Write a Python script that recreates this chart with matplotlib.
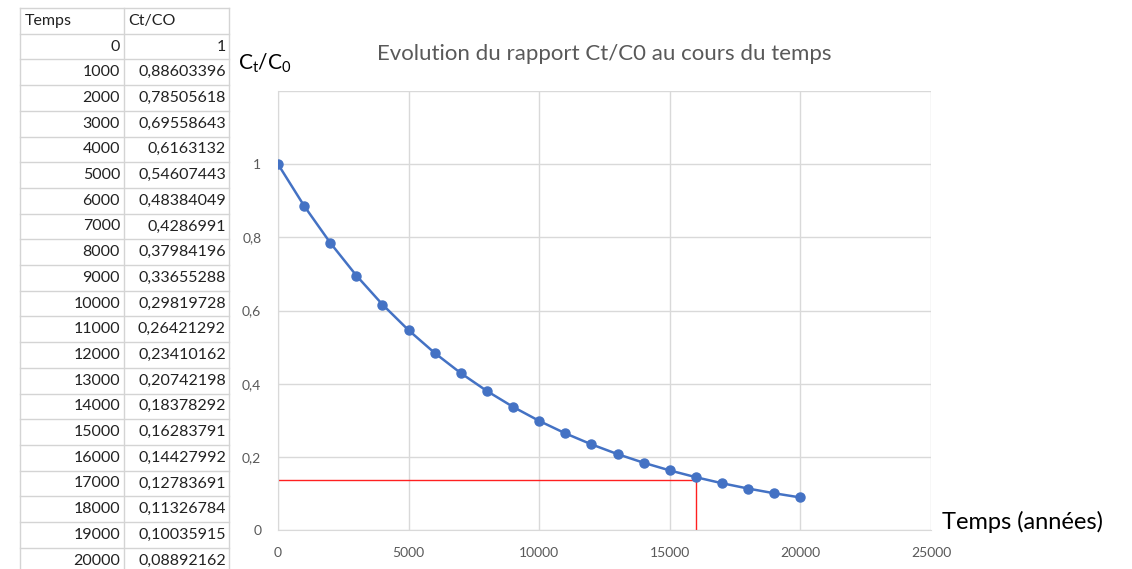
import matplotlib
matplotlib.use("Agg")
import matplotlib.pyplot as plt
from matplotlib.lines import Line2D

plt.rcParams['font.family'] = ['Lato', 'DejaVu Sans']
plt.rcParams['mathtext.fontset'] = 'custom'
plt.rcParams['mathtext.rm'] = 'Lato'
plt.rcParams['mathtext.it'] = 'Lato'

# ---- data ----
temps = [0, 1000, 2000, 3000, 4000, 5000, 6000, 7000, 8000, 9000, 10000,
         11000, 12000, 13000, 14000, 15000, 16000, 17000, 18000, 19000, 20000]
ratio = [1, 0.88603396, 0.78505618, 0.69558643, 0.6163132, 0.54607443,
         0.48384049, 0.4286991, 0.37984196, 0.33655288, 0.29819728,
         0.26421292, 0.23410162, 0.20742198, 0.18378292, 0.16283791,
         0.14427992, 0.12783691, 0.11326784, 0.10035915, 0.08892162]
table_headers = ["Temps", "Ct/CO"]
chart_title = "Evolution du rapport Ct/C0 au cours du temps"
x_ticks = [0, 5000, 10000, 15000, 20000, 25000]
y_ticks = [0, 0.2, 0.4, 0.6, 0.8, 1.0, 1.2]
y_ticklabels = ["0", "0,2", "0,4", "0,6", "0,8", "1", ""]
read_time = 16000
read_ratio = 0.138

W, H = 1132, 569
fig = plt.figure(figsize=(W / 100, H / 100), dpi=100)


def fx(px):
    return px / W


def fy(py):
    return 1 - py / H


# ---- spreadsheet table ----
grid_c = '#D4D4D4'
row_h = 25.7
top = 8
ncols_x = [20, 124, 229]
nrows = len(temps) + 1
for i in range(nrows + 1):
    y = top + i * row_h
    if y > H:
        break
    fig.add_artist(Line2D([fx(20), fx(229)], [fy(y), fy(y)], color=grid_c, lw=1))
for x in ncols_x:
    fig.add_artist(Line2D([fx(x), fx(x)], [fy(top), fy(H)], color=grid_c, lw=1))

fig.text(fx(25), fy(top + row_h / 2), table_headers[0], ha='left', va='center',
         fontsize=11.5, color='#222222')
fig.text(fx(128), fy(top + row_h / 2), table_headers[1], ha='left', va='center',
         fontsize=11.5, color='#222222')


def fmt(v):
    s = f"{v:.8f}".rstrip('0').rstrip('.')
    return s.replace('.', ',')


for i, (t, r) in enumerate(zip(temps, ratio)):
    yc = top + (i + 1) * row_h + row_h / 2
    fig.text(fx(120), fy(yc), str(t), ha='right', va='center', fontsize=11.5, color='#222222')
    fig.text(fx(226), fy(yc), fmt(r), ha='right', va='center', fontsize=11.5, color='#222222')

# ---- chart ----
ax_l, ax_r, ax_t, ax_b = 278, 931, 91, 530
ax = fig.add_axes([fx(ax_l), fy(ax_b), (ax_r - ax_l) / W, (ax_b - ax_t) / H])
ax.set_xlim(0, 25000)
ax.set_ylim(0, 1.2)
ax.set_xticks(x_ticks)
ax.set_xticklabels([str(v) for v in x_ticks])
ax.set_yticks(y_ticks)
ax.set_yticklabels(y_ticklabels)
ax.grid(True, color='#D9D9D9', lw=1)
ax.set_axisbelow(True)
for s in ax.spines.values():
    s.set_visible(False)
ax.spines['left'].set_visible(True)
ax.spines['bottom'].set_visible(True)
ax.spines['left'].set_color('#D9D9D9')
ax.spines['bottom'].set_color('#D9D9D9')
ax.tick_params(length=0, labelsize=10, labelcolor='#595959')
ax.tick_params(axis='y', pad=12)
ax.tick_params(axis='x', pad=12)

ax.plot([0, read_time], [read_ratio, read_ratio], color='#FF2020', lw=1, zorder=2)
ax.plot([read_time, read_time], [0, read_ratio], color='#FF2020', lw=1, zorder=2)

ax.plot(temps, ratio, color='#4472C4', lw=1.8, marker='o', markersize=6.5,
        markerfacecolor='#4472C4', markeredgecolor='#4472C4', zorder=3)

fig.text(fx(604), fy(54), chart_title, ha='center', va='center', fontsize=16,
         color='#595959')
fig.text(fx(238), fy(63), r'$\mathregular{C_t/C_0}$', ha='left', va='center',
         fontsize=15, color='black')
fig.text(fx(942), fy(522), "Temps (années)", ha='left', va='center', fontsize=17,
         color='black')

fig.savefig('out.png', dpi=100)
